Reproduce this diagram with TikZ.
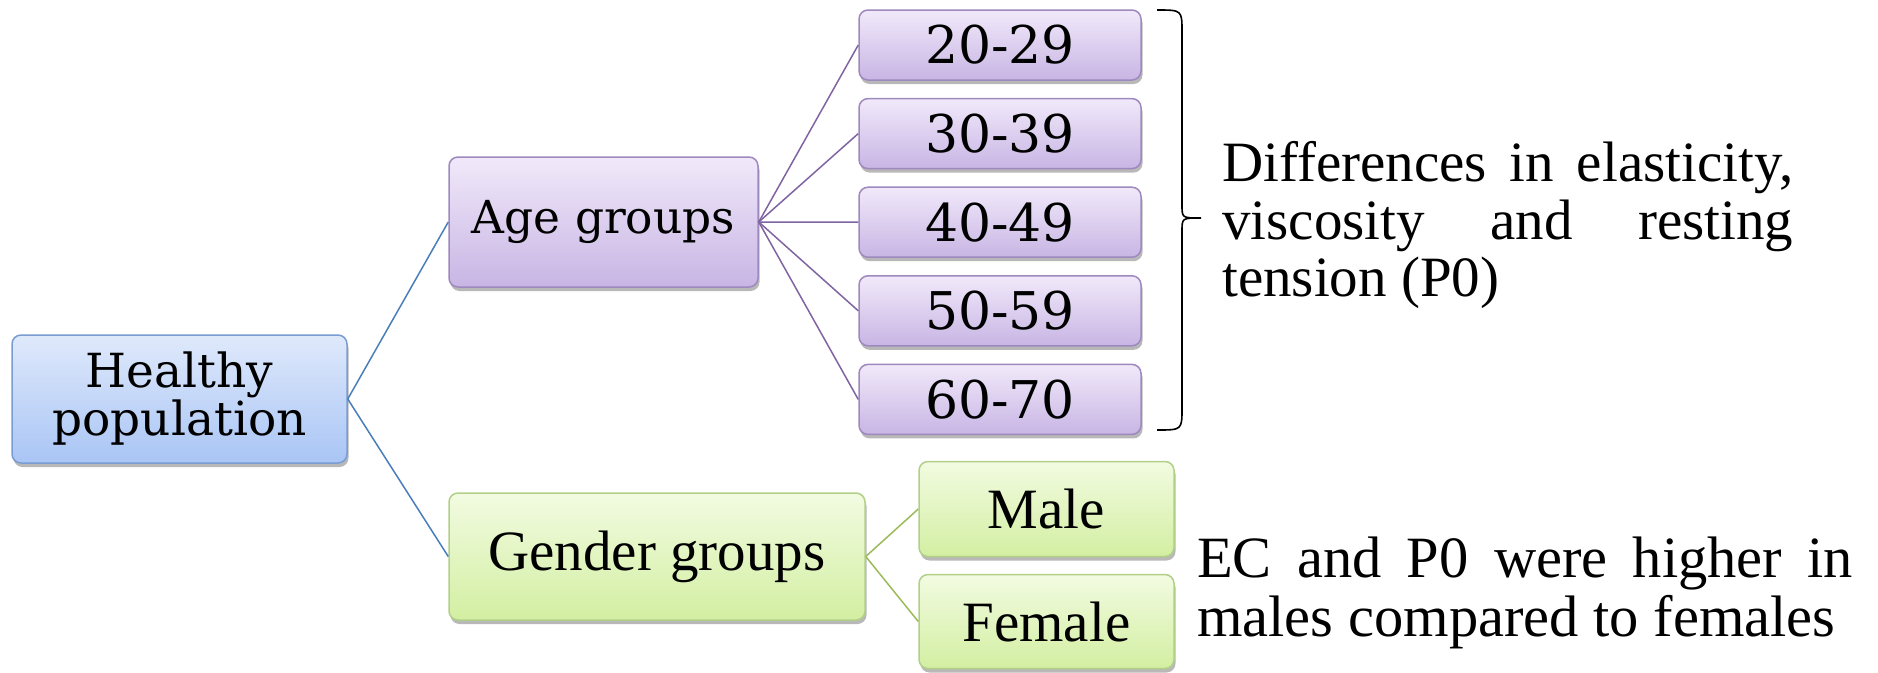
\documentclass[tikz,border=0pt]{standalone}
\usepackage{fontspec}
\setmainfont{DejaVu Serif}
\newfontfamily\notefont{Liberation Serif}
\usepackage{xcolor}
\usetikzlibrary{positioning, shadows}

\definecolor{bluetop}{HTML}{DFE9FB}
\definecolor{bluebot}{HTML}{A9C5F5}
\definecolor{blueedge}{HTML}{7A9DD1}
\definecolor{blueline}{HTML}{4A7EBB}
\definecolor{purpletop}{HTML}{F1E9FA}
\definecolor{purplebot}{HTML}{C8B5E4}
\definecolor{purpleedge}{HTML}{9E89BE}
\definecolor{purpleline}{HTML}{8064A2}
\definecolor{greentop}{HTML}{F2FBE1}
\definecolor{greenbot}{HTML}{D3EFA2}
\definecolor{greenedge}{HTML}{B2CF88}
\definecolor{greenline}{HTML}{9BBB59}

\tikzset{
  box/.style={rounded corners=9pt, line width=1.5pt, align=center, inner sep=0pt,
    drop shadow={shadow xshift=1.5pt, shadow yshift=-4pt, opacity=0.28, fill=black}},
  rootbox/.style={box, draw=blueedge, top color=bluetop, bottom color=bluebot,
    font=\fontsize{47}{48}\selectfont},
  agebox/.style={box, draw=purpleedge, top color=purpletop, bottom color=purplebot,
    font=\fontsize{52}{54}\selectfont},
  sexbox/.style={box, draw=greenedge, top color=greentop, bottom color=greenbot,
    font=\notefont\fontsize{57}{58}\selectfont},
  note/.style={anchor=west, inner sep=0pt, align=justify}
}

\begin{document}
\begin{tikzpicture}[x=1pt, y=-1pt]
  \useasboundingbox (0,0) rectangle (1878,672);
  % Root
  \node[rootbox, minimum width=335pt, minimum height=128pt] (healthy) at (179.5,399)
    {Healthy\\population};
  % Second level
  \node[agebox, minimum width=309pt, minimum height=130pt, font=\fontsize{45.5}{48}\selectfont]
    (age) at (603.5,222) {Age groups};
  \node[sexbox, minimum width=416pt, minimum height=127pt] (gender) at (657,556.5)
    {Gender groups};
  % Age classes
  \node[agebox, minimum width=282pt, minimum height=70pt] (a20) at (1000,45)    {20-29};
  \node[agebox, minimum width=282pt, minimum height=70pt] (a30) at (1000,133.6) {30-39};
  \node[agebox, minimum width=282pt, minimum height=70pt] (a40) at (1000,222.2) {40-49};
  \node[agebox, minimum width=282pt, minimum height=70pt] (a50) at (1000,310.8) {50-59};
  \node[agebox, minimum width=282pt, minimum height=70pt] (a60) at (1000,399.4) {60-70};
  % Gender classes
  \node[sexbox, minimum width=255pt, minimum height=95pt] (male)   at (1046.5,509)   {Male};
  \node[sexbox, minimum width=255pt, minimum height=94pt] (female) at (1046.5,621.5) {Female};
  % Connectors
  \draw[blueline, line width=1.5pt] (healthy.east) -- (age.west);
  \draw[blueline, line width=1.5pt] (healthy.east) -- (gender.west);
  \draw[purpleline, line width=1.5pt] (age.east) -- (a20.west);
  \draw[purpleline, line width=1.5pt] (age.east) -- (a30.west);
  \draw[purpleline, line width=1.5pt] (age.east) -- (a40.west);
  \draw[purpleline, line width=1.5pt] (age.east) -- (a50.west);
  \draw[purpleline, line width=1.5pt] (age.east) -- (a60.west);
  \draw[greenline, line width=1.5pt] (gender.east) -- (male.west);
  \draw[greenline, line width=1.5pt] (gender.east) -- (female.west);
  % Brace over the age classes
  \coordinate (btop) at (1157,10);
  \coordinate (bbot) at (1157,430);
  \coordinate (btip) at (1201,218);
  \draw[line width=1.6pt] (btop) .. controls (1182,10) .. (1182,32) -- (1182,205)
    .. controls (1182,218) .. (btip) .. controls (1182,218) .. (1182,231)
    -- (1182,408) .. controls (1182,430) .. (bbot);
  % Findings
  \node[note, text width=571pt, font=\notefont\fontsize{57}{57.5}\selectfont]
    (agenote) at (1222,225)
    {Differences in elasticity,\linebreak viscosity and resting\linebreak tension (P0)};
  \node[note, text width=656pt, font=\notefont\fontsize{58.5}{59}\selectfont]
    (sexnote) at (1197,593)
    {EC and P0 were higher in\linebreak males compared to females};
\end{tikzpicture}
\end{document}
